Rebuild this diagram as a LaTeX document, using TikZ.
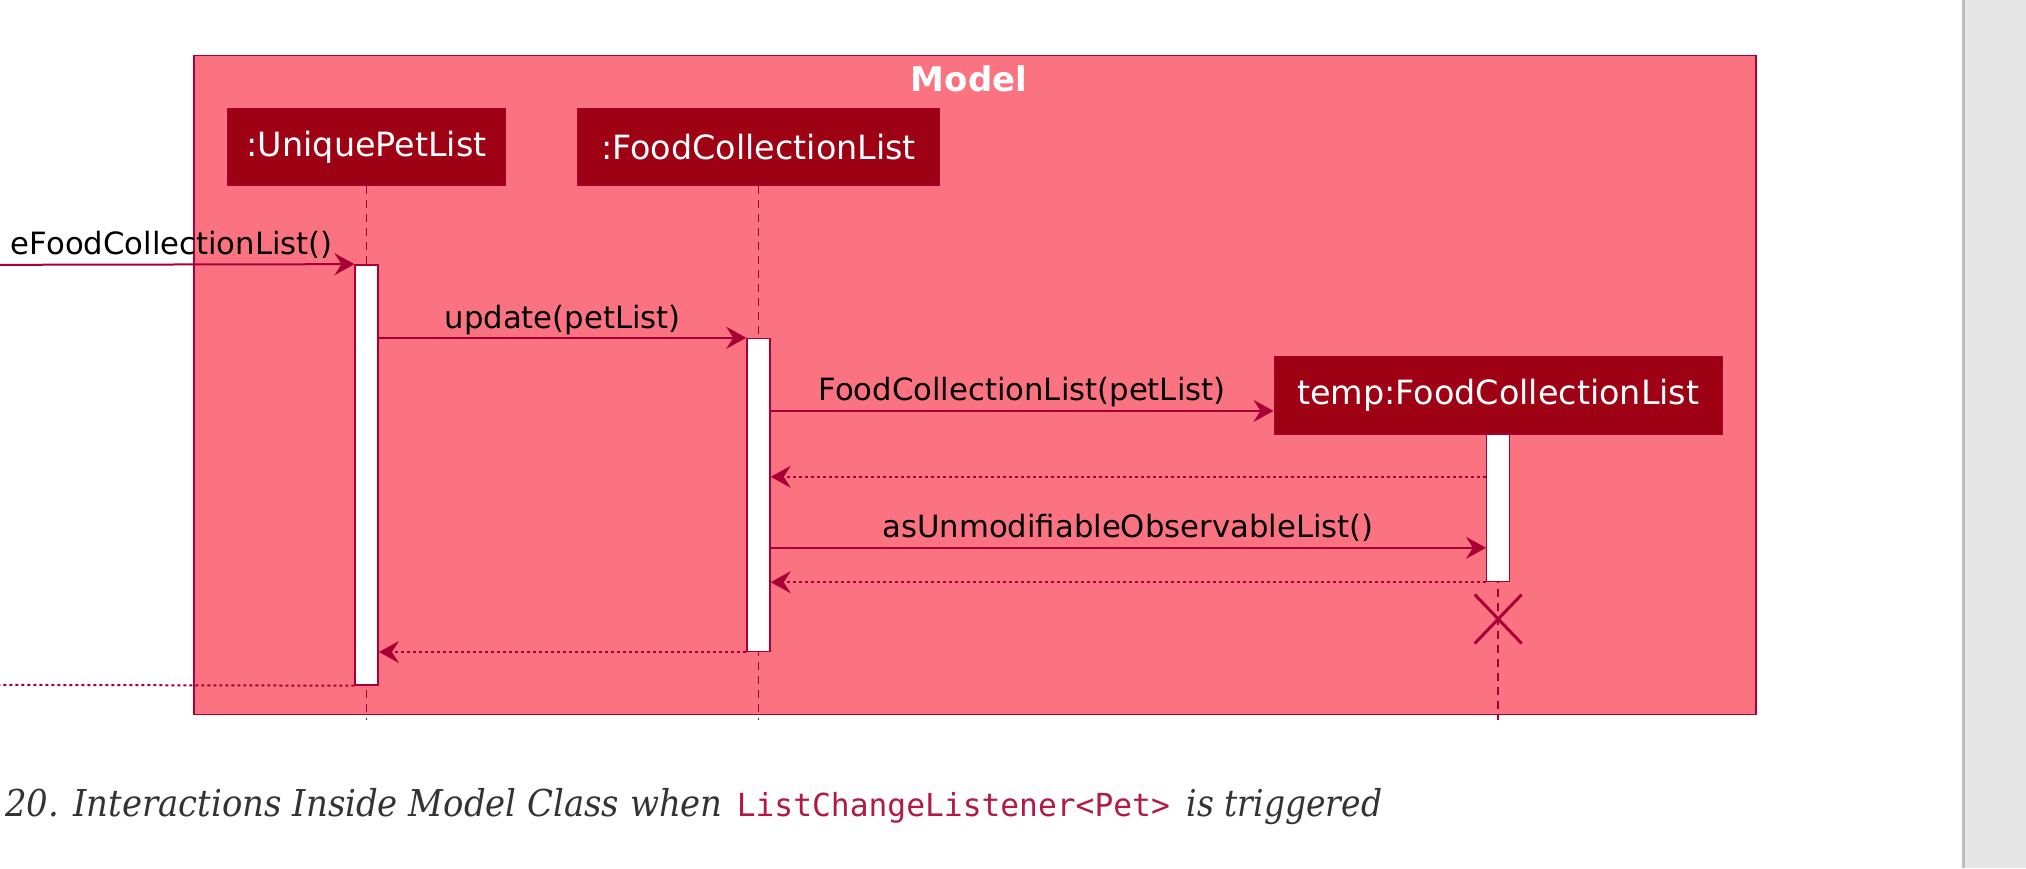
\documentclass[tikz,border=0pt]{standalone}
\usepackage{fontspec}
\setmainfont{DejaVu Sans}
\newfontfamily\capfont{DejaVu Serif}
\newfontfamily\codefont{DejaVu Sans Mono}
\usetikzlibrary{arrows.meta,shapes.misc}
\definecolor{framefill}{HTML}{FB7380}
\definecolor{crimson}{HTML}{A80036}
\definecolor{partfill}{HTML}{9E0014}
\definecolor{captext}{HTML}{333333}
\definecolor{codered}{HTML}{B01A43}
\definecolor{panelgray}{HTML}{E6E6E6}
\definecolor{panelline}{HTML}{BDBDBD}
\tikzset{
  partbox/.style={draw=crimson, fill=partfill, text=white, line width=1pt,
    minimum height=77.5pt, inner sep=0pt, font=\fontsize{33.4}{38}\selectfont},
  actbox/.style={draw=crimson, fill=white, line width=1.5pt, minimum width=23pt, inner sep=0pt},
  lifeline/.style={draw=crimson, line width=1.5pt, dash pattern=on 8pt off 6pt},
  msg/.style={draw=crimson, line width=2pt, -{Stealth[length=20pt,width=22pt,inset=7pt]}},
  ret/.style={draw=crimson, line width=2pt, dash pattern=on 3pt off 3pt, -{Stealth[length=20pt,width=22pt,inset=7pt]}},
  msglabel/.style={text=black, inner sep=0pt, font=\fontsize{30.7}{36}\selectfont}
}
\begin{document}
\begin{tikzpicture}[x=1pt,y=-1pt]
\useasboundingbox (0,0) rectangle (2026,868);
\clip (0,0) rectangle (2026,868);
% right panel
\fill[panelgray] (1963,0) rectangle (2026,868);
\draw[panelline, line width=3pt] (1963,0) -- (1963,868);
% frame
\node[draw=crimson, fill=framefill, line width=1.5pt, minimum width=1562pt, minimum height=659pt, inner sep=0pt] (model) at (975,385) {};
\node[text=white, font=\bfseries\fontsize{34}{40}\selectfont, inner sep=0pt] (modeltitle) at (969,79) {Model};
% participants
\node[partbox, minimum width=278.5pt] (upl) at (366.7,147) {:UniquePetList};
\node[partbox, minimum width=362pt] (fcl) at (758.5,147) {:FoodCollectionList};
\node[partbox, minimum width=448.4pt] (temp) at (1498.2,395.3) {temp:FoodCollectionList};
% lifeline ends
\coordinate (uplend) at (366.7,720);
\coordinate (fclend) at (758.5,720);
\coordinate (tempend) at (1498.2,720);
\draw[lifeline] (upl.south) -- (uplend);
\draw[lifeline] (fcl.south) -- (fclend);
\draw[lifeline] (temp.south) -- (tempend);
% activations
\node[actbox, minimum height=420pt] (a1) at (366.7,474.9) {};
\node[actbox, minimum height=312.7pt] (a2) at (758.5,494.9) {};
\node[actbox, minimum height=147.3pt] (a3) at (1498.2,507.8) {};
% destroy
\node[draw=crimson, cross out, line width=3pt, minimum width=44pt, minimum height=46pt, inner sep=0pt] (destroy) at (1498.2,619) {};
% messages
\coordinate (lstart) at (-40,264.9);
\coordinate (lend) at (-40,684.8);
\draw[msg] (lstart) -- (a1.north west);
\node[msglabel, anchor=base east] (m1label) at (333,254.5) {eFoodCollectionList()};
\draw[msg] (a1.east |- a2.north) -- (a2.north west);
\node[msglabel, anchor=base] (m2label) at (562.7,328.5) {update(petList)};
\draw[msg] (a2.east |- 0,410.9) -- (temp.west |- 0,410.9);
\node[msglabel, anchor=base] (m3label) at (1022,400.9) {FoodCollectionList(petList)};
\draw[ret] (a3.west |- 0,476.8) -- (a2.east |- 0,476.8);
\draw[msg] (a2.east |- 0,547.8) -- (a3.west |- 0,547.8);
\node[msglabel, anchor=base] (m4label) at (1128,537.8) {asUnmodifiableObservableList()};
\draw[ret] (a3.south west) -- (a2.east |- a3.south);
\draw[ret] (a2.south west) -- (a1.east |- a2.south);
\draw[ret] (a1.south west) -- (lend);
% caption
\node[anchor=base west, inner sep=0pt, text=captext] (caption) at (5,816.7)
  {\resizebox{717.6pt}{\height}{\capfont\itshape\fontsize{37}{44}\selectfont 20. Interactions Inside Model Class when}\hspace{14pt}%
   \resizebox{433pt}{\height}{\codefont\fontsize{31.7}{36}\selectfont\color{codered}ListChangeListener<Pet>}\hspace{17pt}%
   \resizebox{195.4pt}{\height}{\capfont\itshape\fontsize{37}{44}\selectfont is triggered}};
\end{tikzpicture}
\end{document}
